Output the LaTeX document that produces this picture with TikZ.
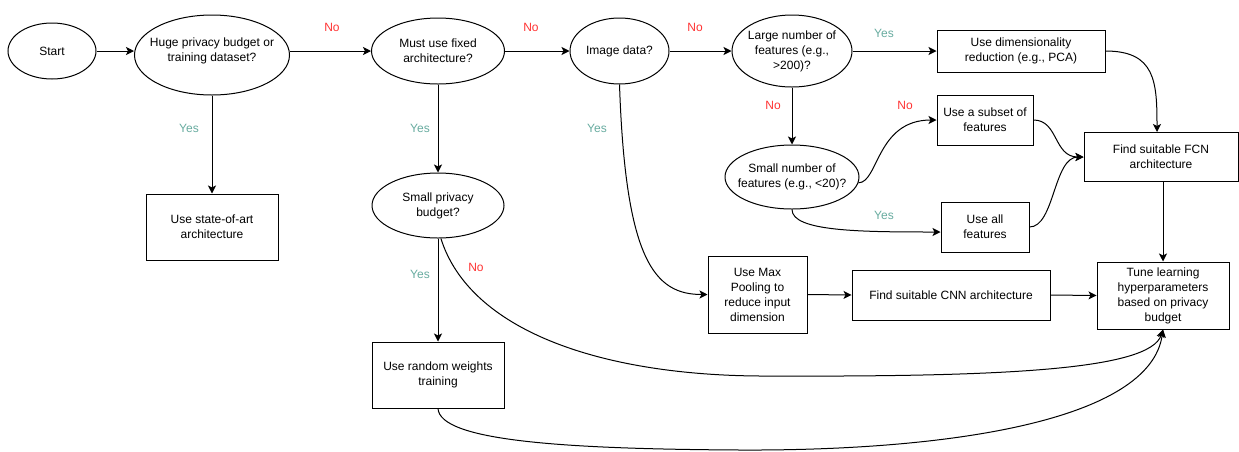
\documentclass[tikz,border=0pt]{standalone}
\usepackage{fontspec}
\setmainfont{Liberation Sans}
\usetikzlibrary{shapes.geometric,arrows.meta,calc}
\definecolor{yescol}{HTML}{67AB9F}
\definecolor{nocol}{HTML}{FF3333}
\begin{document}
\begin{tikzpicture}[x=0.75pt,y=-0.75pt,
  font=\fontsize{9}{11.25}\selectfont,
  line width=0.75pt,
  ell/.style={ellipse,draw,inner sep=0pt},
  txt/.style={align=center,inner sep=0pt},
  box/.style={rectangle,draw,inner sep=0pt,align=center},
  arr/.style={-{Stealth[length=6pt,width=6pt,inset=1.5pt]}},
  yes/.style={text=yescol,inner sep=0pt},
  no/.style={text=nocol,inner sep=0pt}]
\useasboundingbox (0,0) rectangle (1239,451);

% decision ellipses
\node[ell,minimum width=66pt,minimum height=42pt] (start) at (52,51) {};
\node[txt] (start-t) at (start) {Start};
\node[ell,minimum width=116.25pt,minimum height=60pt] (huge) at (212,55) {};
\node[txt] (huge-t) at (212,51) {Huge privacy budget or\\training dataset?};
\node[ell,minimum width=99.75pt,minimum height=49.5pt] (must) at (438,51) {};
\node[txt] (must-t) at (must) {Must use fixed\\architecture?};
\node[ell,minimum width=74.25pt,minimum height=49.5pt] (img) at (619.5,51) {};
\node[txt] (img-t) at (img) {Image data?};
\node[ell,minimum width=90pt,minimum height=54pt] (large) at (792,51) {};
\node[txt] (large-t) at (large) {Large number of\\features (e.g.,\\>200)?};
\node[ell,minimum width=99pt,minimum height=48.75pt] (smallp) at (438,205.5) {};
\node[txt] (smallp-t) at (smallp) {Small privacy\\budget?};
\node[ell,minimum width=100.5pt,minimum height=48pt] (smalln) at (792,177) {};
\node[txt] (smalln-t) at (smalln) {Small number of\\features (e.g., <20)?};

% process boxes
\node[box,minimum width=99pt,minimum height=49.5pt] (state) at (212,227) {Use state-of-art\\architecture};
\node[box,minimum width=99pt,minimum height=49.5pt] (random) at (438,375) {Use random weights\\training};
\node[box,minimum width=74.25pt,minimum height=57.75pt] (maxp) at (757.5,294.5) {Use Max\\Pooling to\\reduce input\\dimension};
\node[box,minimum width=148.5pt,minimum height=37.5pt] (cnn) at (951,295) {Find suitable CNN architecture};
\node[box,minimum width=99pt,minimum height=50.25pt] (tune) at (1163,295.5) {Tune learning\\hyperparameters\\based on privacy\\budget};
\node[box,minimum width=126pt,minimum height=31.5pt] (dim) at (1021,51) {Use dimensionality\\reduction (e.g., PCA)};
\node[box,minimum width=72pt,minimum height=37.5pt] (subset) at (985,120) {Use a subset of\\features};
\node[box,minimum width=66pt,minimum height=37.5pt] (all) at (985,227) {Use all\\features};
\node[box,minimum width=115.5pt,minimum height=36.75pt] (fcn) at (1161,157) {Find suitable FCN\\architecture};

% straight connectors
\draw[arr] (start.east) -- (start.east -| huge.west);
\draw[arr] (huge.east |- must.west) -- (must.west);
\draw[arr] (must.east) -- (img.west);
\draw[arr] (img.east) -- (large.west);
\draw[arr] (large.east) -- (dim.west);
\draw[arr] (huge.south) -- (state.north);
\draw[arr] (must.south) -- (smallp.north);
\draw[arr] (large.south) -- (smalln.north);
\draw[arr] (smallp.south) -- (random.north);
\draw[arr] (maxp.east) -- (cnn.west);
\draw[arr] (cnn.east) -- (tune.west);
\draw[arr] (fcn.south -| tune.north) -- (tune.north);

% curved connectors
\draw[arr] (img.south) .. controls +(6,176) and +(-53,0) .. (maxp.west);
\draw[arr] (smalln.-5) .. controls +(20,0) and +(-60,0) .. (subset.west);
\draw[arr] (smalln.south) .. controls +(0,22) and +(-80,0) .. ([yshift=-3.75pt]all.west);
\draw[arr] (dim.east) .. controls +(50,0) and +(0,-50) .. ([xshift=-3pt]fcn.north);
\draw[arr] (subset.east) .. controls +(25,0) and +(-30,0) .. (fcn.west);
\draw[arr] (all.east) .. controls +(25,0) and +(-30,0) .. (fcn.west);

\coordinate (m1) at (760,376);
\coordinate (m2) at (740,450);
\draw[arr] (smallp.-85) .. controls +(29,92) and +(-160,-1) .. (m1)
  .. controls +(240,1) and +(-13,41) .. (tune.south);
\draw[arr] (random.south) .. controls +(2,32) and +(-180,-1) .. (m2)
  .. controls +(210,1) and +(-13,91) .. (tune.south);

% edge labels
\node[no] (n1) at (332,27) {No};
\node[no] (n2) at (531,27) {No};
\node[no] (n3) at (695,27) {No};
\node[yes] (y1) at (884,33) {Yes};
\node[yes] (y2) at (189,128) {Yes};
\node[yes] (y3) at (420,128) {Yes};
\node[yes] (y4) at (597,128) {Yes};
\node[no] (n4) at (773,105) {No};
\node[no] (n5) at (905,105) {No};
\node[yes] (y5) at (884,215) {Yes};
\node[yes] (y6) at (420,274) {Yes};
\node[no] (n6) at (476,267) {No};
\end{tikzpicture}
\end{document}
